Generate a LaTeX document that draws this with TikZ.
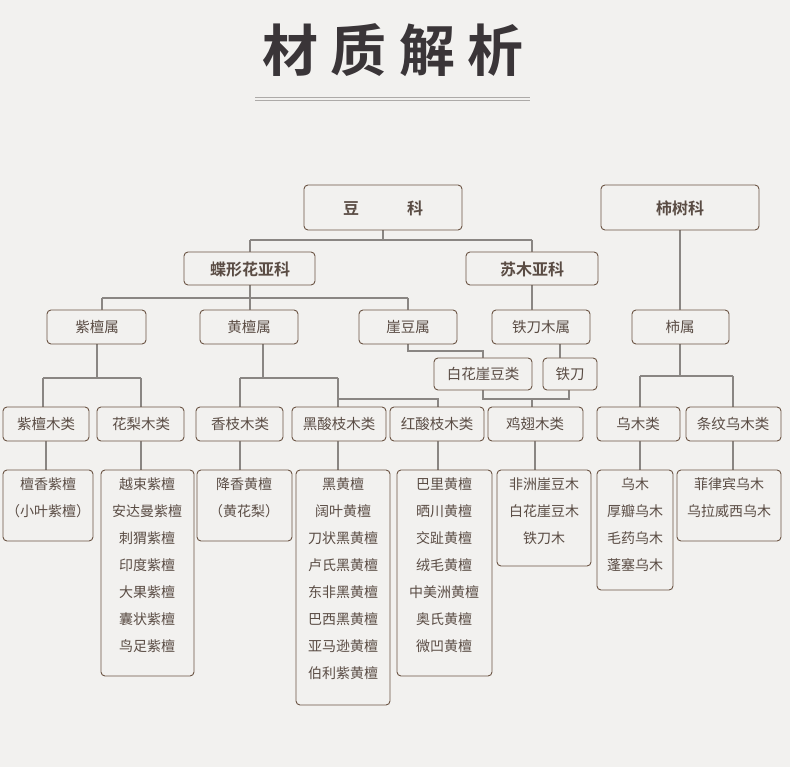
\documentclass[tikz,border=0pt]{standalone}
\usepackage{fontspec}
\setmainfont{Noto Sans CJK SC}
\newfontfamily\cjkb{Noto Sans CJK SC Bold}
\begin{document}
\begin{tikzpicture}[x=1pt,y=-1pt,
 bx/.style={draw=boxc,line width=0.9pt,rounded corners=4pt,fill=bgc},
 ln/.style={draw=linec,line width=1.6pt},
 tx/.style={text=txc,font=\fontsize{14.5}{16}\selectfont},
 bt/.style={text=txc,font=\cjkb\fontsize{16}{18}\selectfont},
 lf/.style={text=txc,font=\fontsize{14}{27}\selectfont,align=center,anchor=north}]
\definecolor{bgc}{HTML}{F2F1EF}
\definecolor{boxc}{HTML}{6B5444}
\definecolor{linec}{HTML}{8A8683}
\definecolor{txc}{HTML}{5A4C44}
\definecolor{ttc}{HTML}{3A3538}
\fill[bgc] (0,0) rectangle (790,767);
\useasboundingbox (0,0) rectangle (790,767);
\node[text=ttc,font=\cjkb\fontsize{56}{60}\selectfont] (title) at (393,50) {材\hspace{0.22em}质\hspace{0.22em}解\hspace{0.22em}析};
\draw[linec!70,line width=0.6pt] (255,97) -- (530,97) (255,100) -- (530,100);
% connectors
\draw[ln] (383,230) -- (383,240) (250,240) -- (532,240) (250,240) -- (250,252) (532,240) -- (532,252);
\draw[ln] (250,285) -- (250,298) (102,298) -- (408,298) (102,298) -- (102,310) (250,298)--(250,310) (408,298) -- (408,310);
\draw[ln] (532,285) -- (532,310) (680,230) -- (680,310);
\draw[ln] (97,344) -- (97,378) (43,378) -- (141,378) (43,378) -- (43,407) (141,378) -- (141,407);
\draw[ln] (263,344) -- (263,378) (240,378) -- (338,378) (240,378) -- (240,407) (338,378) -- (338,407) (338,399) -- (438,399) -- (438,407);
\draw[ln] (408,344) -- (408,351) -- (483,351) -- (483,358) (560,344) -- (560,358);
\draw[ln] (483,390) -- (483,399) -- (569,399) -- (569,390) (532,399) -- (532,407);
\draw[ln] (680,344) -- (680,376) (640,376) -- (733,376) (640,376) -- (640,407) (733,376) -- (733,407);
\foreach \x in {46,141,240,338,438,535,640,733} \draw[ln] (\x,441) -- (\x,470);
% boxes
\draw[bx] (304,185) rectangle (462,230); \node[bt] (douke) at (383,208) {豆\hspace{3em}科};
\draw[bx] (601,185) rectangle (759,230); \node[bt] (shishuke) at (680,208) {柿树科};
\draw[bx] (184,252) rectangle (315,285); \node[bt] (dx) at (250,269) {蝶形花亚科};
\draw[bx] (466,252) rectangle (598,285); \node[bt] (sm) at (532,269) {苏木亚科};
\draw[bx] (47,310) rectangle (146,344); \node[tx] (ztsh) at (97,327) {紫檀属};
\draw[bx] (200,310) rectangle (298,344); \node[tx] (htsh) at (249,327) {黄檀属};
\draw[bx] (359,310) rectangle (457,344); \node[tx] (ydsh) at (408,327) {崖豆属};
\draw[bx] (492,310) rectangle (590,344); \node[tx] (tdmsh) at (541,327) {铁刀木属};
\draw[bx] (632,310) rectangle (729,344); \node[tx] (shsh) at (680,327) {柿属};
\draw[bx] (434,358) rectangle (532,390); \node[tx] (bhyd) at (483,374) {白花崖豆类};
\draw[bx] (543,358) rectangle (597,390); \node[tx] (td) at (570,374) {铁刀};
\draw[bx] (3,407) rectangle (89,441); \node[tx] (l1) at (46,424) {紫檀木类};
\draw[bx] (97,407) rectangle (184,441); \node[tx] (l2) at (141,424) {花梨木类};
\draw[bx] (196,407) rectangle (283,441); \node[tx] (l3) at (240,424) {香枝木类};
\draw[bx] (292,407) rectangle (386,441); \node[tx] (l4) at (339,424) {黑酸枝木类};
\draw[bx] (390,407) rectangle (484,441); \node[tx] (l5) at (437,424) {红酸枝木类};
\draw[bx] (488,407) rectangle (583,441); \node[tx] (l6) at (535,424) {鸡翅木类};
\draw[bx] (597,407) rectangle (680,441); \node[tx] (l7) at (638,424) {乌木类};
\draw[bx] (686,407) rectangle (781,441); \node[tx] (l8) at (733,424) {条纹乌木类};
% leaves
\draw[bx] (3,470) rectangle (93,541); \node[lf] (f1) at (48,474) {檀香紫檀\\（小叶紫檀）};
\draw[bx] (101,470) rectangle (194,676); \node[lf] (f2) at (147,474) {越束紫檀\\安达曼紫檀\\刺猬紫檀\\印度紫檀\\大果紫檀\\囊状紫檀\\鸟足紫檀};
\draw[bx] (197,470) rectangle (292,541); \node[lf] (f3) at (244,474) {降香黄檀\\（黄花梨）};
\draw[bx] (296,470) rectangle (390,705); \node[lf] (f4) at (343,474) {黑黄檀\\阔叶黄檀\\刀状黑黄檀\\卢氏黑黄檀\\东非黑黄檀\\巴西黑黄檀\\亚马逊黄檀\\伯利紫黄檀};
\draw[bx] (397,470) rectangle (492,676); \node[lf] (f5) at (444,474) {巴里黄檀\\晒川黄檀\\交趾黄檀\\绒毛黄檀\\中美洲黄檀\\奥氏黄檀\\微凹黄檀};
\draw[bx] (497,470) rectangle (591,566); \node[lf] (f6) at (544,474) {非洲崖豆木\\白花崖豆木\\铁刀木};
\draw[bx] (597,470) rectangle (673,590); \node[lf] (f7) at (635,474) {乌木\\厚瓣乌木\\毛药乌木\\蓬塞乌木};
\draw[bx] (677,470) rectangle (781,541); \node[lf] (f8) at (729,474) {菲律宾乌木\\乌拉威西乌木};
\end{tikzpicture}
\end{document}
